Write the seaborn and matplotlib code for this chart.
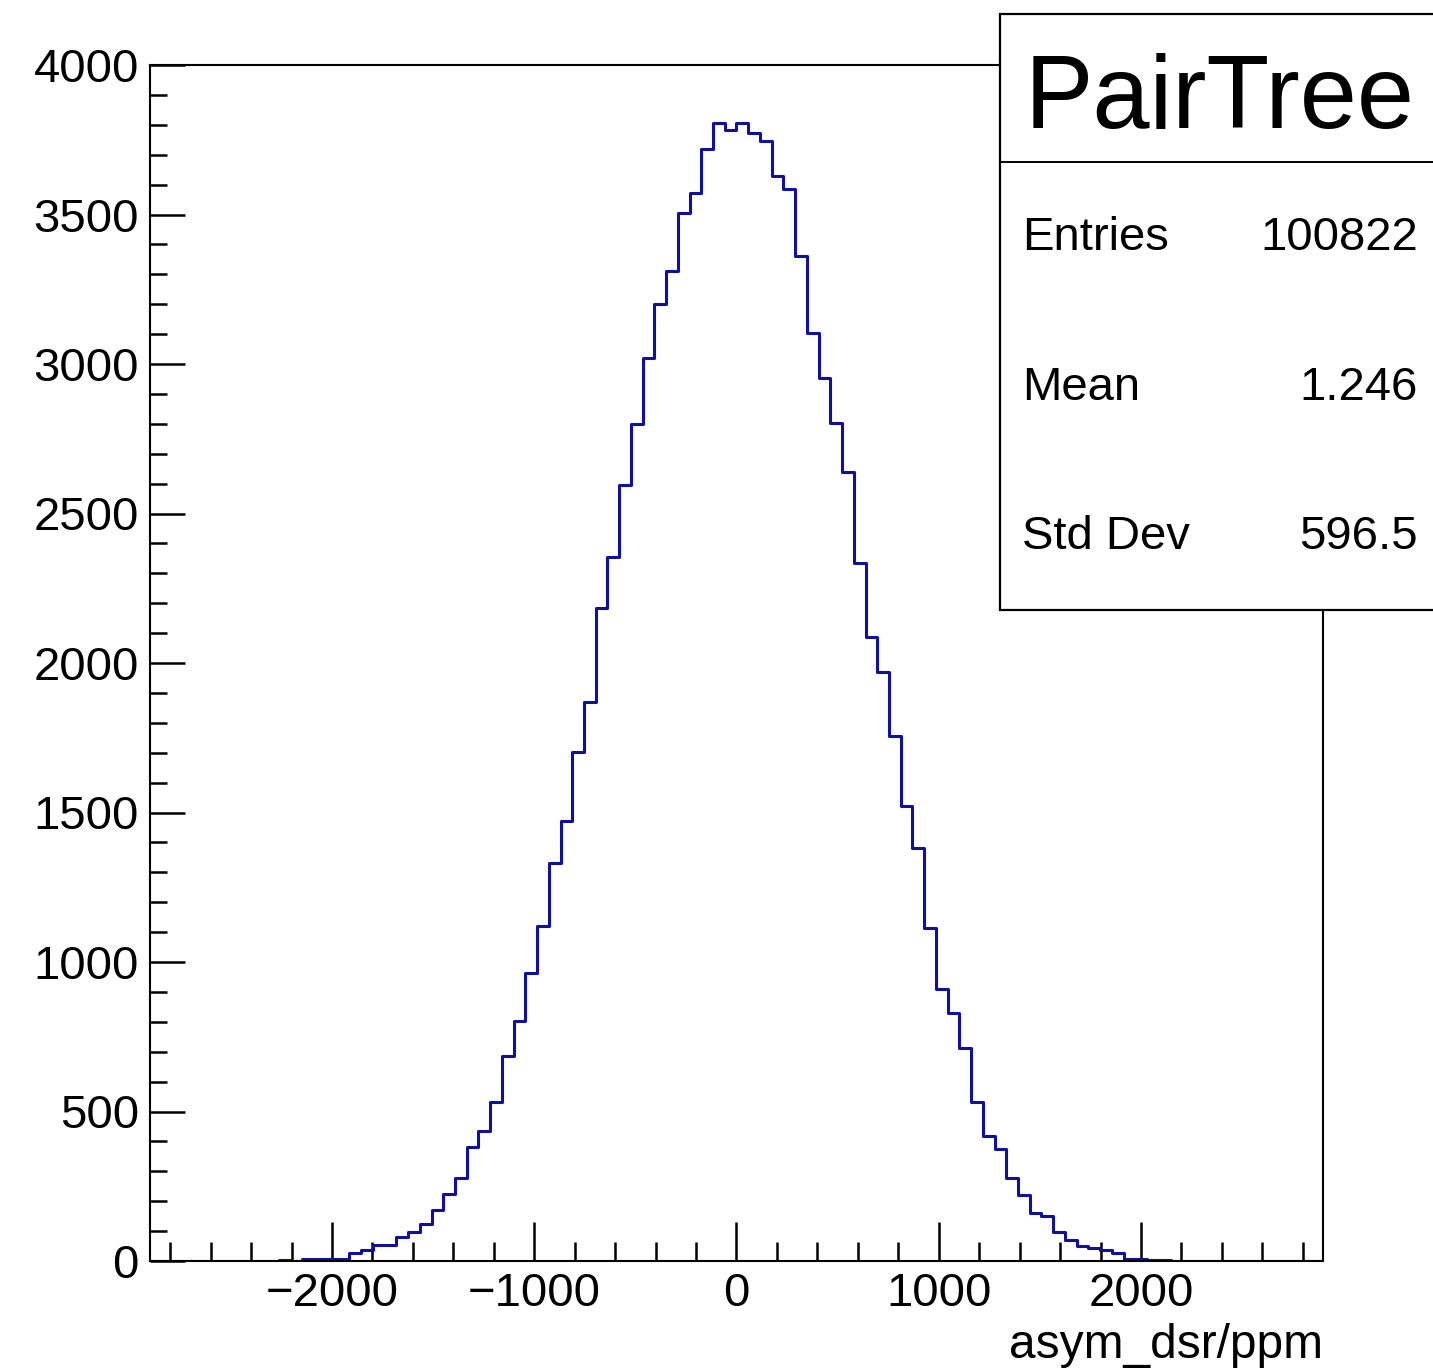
import numpy as np
import pandas as pd
import matplotlib
matplotlib.use("Agg")
import matplotlib.pyplot as plt
import seaborn as sns
from matplotlib.patches import Rectangle
from matplotlib.lines import Line2D
from matplotlib.ticker import MultipleLocator

# 100 bins from -2900 to 2900 ppm, counts
bin_edges = np.linspace(-2900, 2900, 101)
counts = [
    0, 0, 0, 0, 0, 0, 0, 0, 0, 0,
    0, 3, 0, 6, 7, 7, 8, 27, 37, 52,
    55, 80, 97, 124, 170, 224, 276, 381, 436, 533,
    686, 803, 963, 1120, 1330, 1470, 1704, 1871, 2185, 2355,
    2595, 2801, 3020, 3200, 3311, 3505, 3572, 3719, 3806, 3783,
    3806, 3773, 3746, 3629, 3585, 3361, 3104, 2953, 2803, 2639,
    2334, 2087, 1970, 1756, 1523, 1381, 1113, 910, 829, 712,
    532, 418, 376, 276, 222, 160, 150, 97, 70, 50,
    43, 37, 27, 8, 6, 5, 4, 0, 0, 0,
    0, 0, 0, 0, 0, 0, 0, 0, 0, 0,
]
bin_centers = 0.5 * (bin_edges[:-1] + bin_edges[1:])

stat_names = ["Entries", "Mean", "Std Dev"]
stat_values = ["100822", "1.246", "596.5"]

df = pd.DataFrame({"asym_dsr": bin_centers, "n": counts})

sns.set_style("white")
plt.rcParams["font.family"] = ["Liberation Sans", "DejaVu Sans"]
plt.rcParams["text.color"] = "black"

W, H = 1433, 1371
fig = plt.figure(figsize=(W / 100, H / 100), dpi=100)
ax = fig.add_axes([150 / W, 1 - 1261 / H, (1323 - 150) / W, (1261 - 65) / H])

sns.histplot(data=df, x="asym_dsr", weights="n", bins=list(bin_edges),
             element="step", fill=False, color="#10109c", linewidth=2.2, ax=ax)

ax.set_xlim(-2900, 2900)
ax.set_ylim(0, 4000)
ax.set_xlabel("")
ax.set_ylabel("")
for s in ax.spines.values():
    s.set_color("black")
    s.set_linewidth(1.5)

ax.xaxis.set_major_locator(MultipleLocator(1000))
ax.xaxis.set_minor_locator(MultipleLocator(200))
ax.yaxis.set_major_locator(MultipleLocator(500))
ax.yaxis.set_minor_locator(MultipleLocator(100))
ax.tick_params(axis="both", which="both", direction="in", color="black",
               labelcolor="black", width=1.8, labelsize=34,
               bottom=True, left=True, top=False, right=False)
ax.tick_params(axis="x", which="major", length=28, pad=8)
ax.tick_params(axis="x", which="minor", length=14)
ax.tick_params(axis="y", which="major", length=25, pad=8)
ax.tick_params(axis="y", which="minor", length=12)

fig.text(1323 / W, 1 - 1345 / H, "asym_dsr/ppm", ha="right", va="center",
         fontsize=34.5, color="black")

# stat box, running off the right edge like the original
box = Rectangle((1000 / W, 1 - 610 / H), (1450 - 1000) / W, (610 - 14) / H,
                transform=fig.transFigure, facecolor="white",
                edgecolor="black", linewidth=1.6, clip_on=False, zorder=5)
fig.patches.append(box)
fig.lines.append(Line2D([1000 / W, 1.0], [1 - 162 / H, 1 - 162 / H],
                        transform=fig.transFigure, color="black",
                        linewidth=1.4, zorder=6))
fig.text(1025 / W, 1 - 128 / H, "PairTree", ha="left", va="baseline",
         fontsize=74, color="black", zorder=7)
rows_y = [238, 388, 537]
for name, val, yy in zip(stat_names, stat_values, rows_y):
    fig.text(1022 / W, 1 - yy / H, name, ha="left", va="center",
             fontsize=34, color="black", zorder=7)
    fig.text(1418 / W, 1 - yy / H, val, ha="right", va="center",
             fontsize=34, color="black", zorder=7)

fig.savefig("out.png", dpi=100)
